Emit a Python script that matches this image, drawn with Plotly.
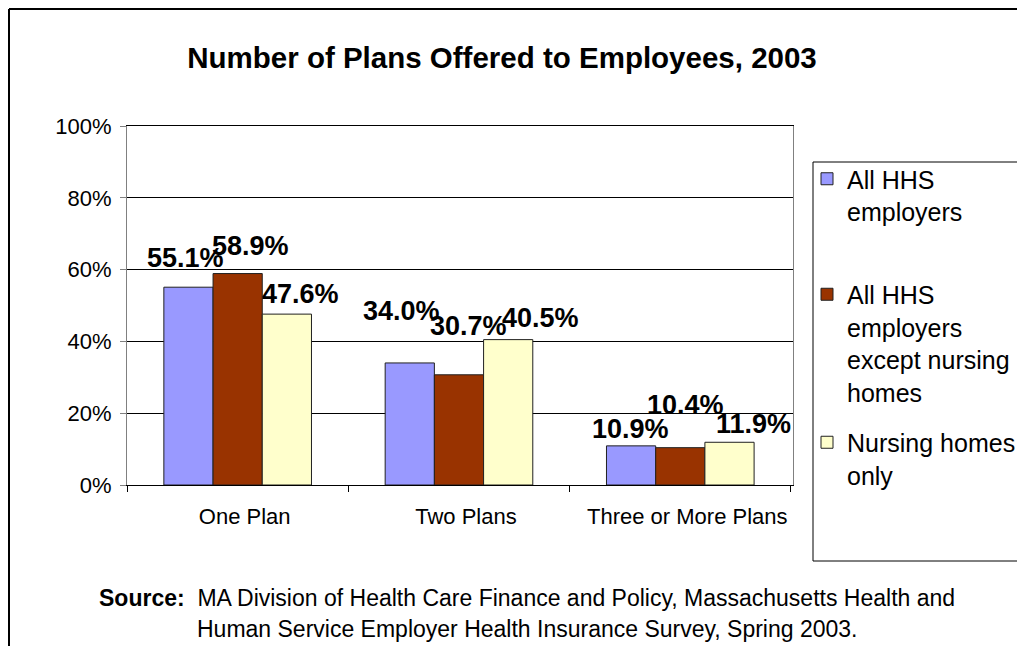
import plotly.graph_objects as go

# Data
categories = ["One Plan", "Two Plans", "Three or More Plans"]
all_hhs = [55.1, 34.0, 10.9]
all_except_nh = [58.9, 30.7, 10.4]
nursing_only = [47.6, 40.5, 11.9]
series_names = [
    "All HHS<br>employers<br>&nbsp;",
    "All HHS<br>employers<br>except nursing<br>homes",
    "Nursing homes<br>only",
]
y_tick_vals = [0, 20, 40, 60, 80, 100]
y_tick_text = ["0%", "20%", "40%", "60%", "80%", "100%"]

# label nudges (pixels) to mimic the hand-placed Excel labels
label_dx = [[-3, 13, 14], [-8, 10, 32], [-1, 5, 24]]
label_rise = [[29, 28, 20], [52, 49, 22], [17, 43, 18]]

# page is drawn with the browser's 8px body margin
OFF = 8
W, H = 1025 - OFF, 646 - OFF
# plot area in page pixels
L, R, T, B = 127, 793, 126, 485
FONT = "Liberation Sans, Arial, sans-serif"


def px(x):
    return (x - L) / (R - L)


def py(y):
    return (B - y) / (B - T)


colors = ["#9999FF", "#993300", "#FFFFCC"]
series = [all_hhs, all_except_nh, nursing_only]
bargap = 0.333

fig = go.Figure()
for k, (name, vals, col) in enumerate(zip(series_names, series, colors)):
    fig.add_trace(go.Bar(
        x=categories, y=vals, name=name, legendgroup="g%d" % k,
        marker=dict(color=col, line=dict(color="#202020", width=1)),
    ))

# data labels
bw = (1 - bargap) / 3
for j, vals in enumerate(series):
    for i, v in enumerate(vals):
        fig.add_annotation(
            x=i + (j - 1) * bw, y=v, xref="x", yref="y",
            text="<b>%.1f%%</b>" % v, showarrow=False,
            xanchor="center", yanchor="middle",
            xshift=label_dx[i][j], yshift=label_rise[i][j],
            font=dict(family=FONT, size=27, color="black"),
        )

# source note
fig.add_annotation(
    x=px(97), y=py(598), xref="paper", yref="paper",
    text="<b>Source:</b>&nbsp;&nbsp;MA Division of Health Care Finance and Policy, Massachusetts Health and",
    showarrow=False, xanchor="left", yanchor="middle",
    font=dict(family=FONT, size=23, color="black"),
)
fig.add_annotation(
    x=px(195), y=py(629), xref="paper", yref="paper",
    text="Human Service Employer Health Insurance Survey, Spring 2003.",
    showarrow=False, xanchor="left", yanchor="middle",
    font=dict(family=FONT, size=23, color="black"),
)

# outer chart frame (top and left edges) and legend box
fig.add_shape(type="line", xref="paper", yref="paper",
              x0=px(9), y0=py(9), x1=px(1040), y1=py(9),
              line=dict(color="black", width=2))
fig.add_shape(type="line", xref="paper", yref="paper",
              x0=px(9), y0=py(9), x1=px(9), y1=py(660),
              line=dict(color="black", width=2))
fig.add_shape(type="rect", xref="paper", yref="paper",
              x0=px(813), y0=py(561), x1=px(1040), y1=py(162),
              line=dict(color="black", width=1))

fig.update_layout(
    width=W, height=H,
    margin=dict(l=L - OFF, r=W - (R - OFF), t=T - OFF, b=H - (B - OFF),
                autoexpand=False),
    paper_bgcolor="white", plot_bgcolor="white",
    font=dict(family=FONT, size=22, color="black"),
    title=dict(
        text="<b>Number of Plans Offered to Employees, 2003</b>",
        x=(502 - OFF) / W, y=1 - (58 - OFF) / H,
        xref="container", yref="container",
        xanchor="center", yanchor="middle",
        font=dict(family=FONT, size=29.5, color="black"),
    ),
    barmode="group", bargap=bargap, bargroupgap=0,
    showlegend=True,
    legend=dict(
        x=px(807), y=py(156), xanchor="left", yanchor="top",
        font=dict(family=FONT, size=25, color="black"),
        bgcolor="rgba(0,0,0,0)", borderwidth=0,
        tracegroupgap=15, valign="top", traceorder="grouped",
    ),
    xaxis=dict(
        showline=True, linecolor="black", linewidth=1, mirror=True,
        ticks="outside", ticklen=6, tickcolor="black", tickson="boundaries",
        showgrid=False, tickfont=dict(size=22), ticklabelstandoff=12,
        ticklabelshift=7,
    ),
    yaxis=dict(
        range=[0, 100], tickvals=y_tick_vals, ticktext=y_tick_text,
        showline=True, linecolor="#808080", linewidth=1, mirror=True,
        ticks="outside", ticklen=6, tickcolor="#808080",
        showgrid=True, gridcolor="black", gridwidth=1, zeroline=False,
        tickfont=dict(size=22), ticklabelstandoff=4,
    ),
)

fig.write_html("out.html")
